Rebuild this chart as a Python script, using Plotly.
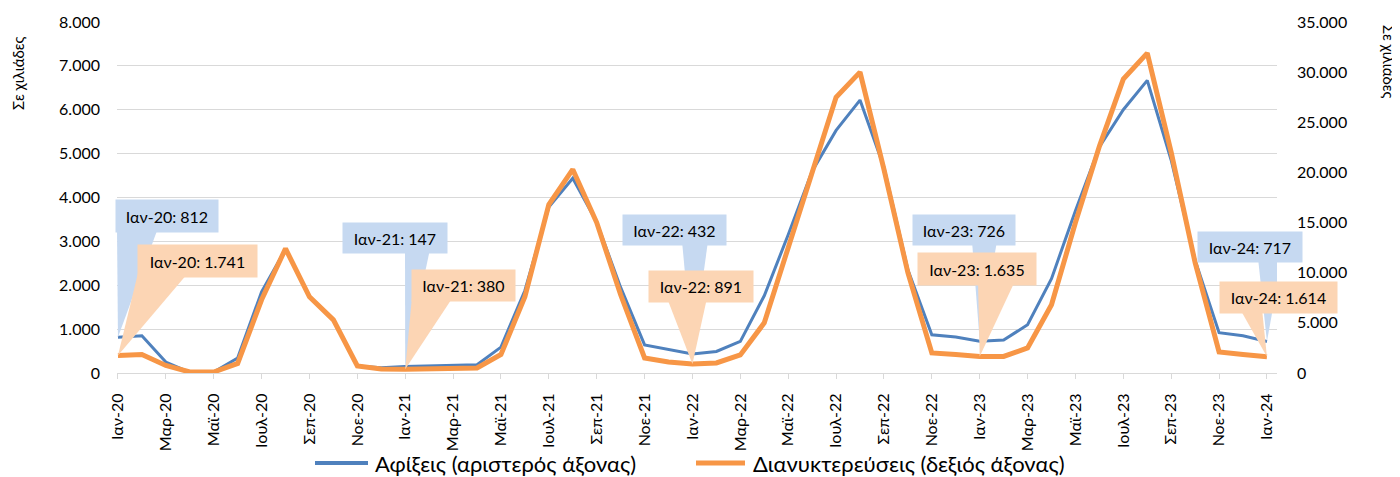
import plotly.graph_objects as go

months = ["Ιαν-20", "Φεβ-20", "Μαρ-20", "Απρ-20", "Μαϊ-20", "Ιουν-20", "Ιουλ-20", "Αυγ-20", "Σεπ-20", "Οκτ-20", "Νοε-20", "Δεκ-20",
          "Ιαν-21", "Φεβ-21", "Μαρ-21", "Απρ-21", "Μαϊ-21", "Ιουν-21", "Ιουλ-21", "Αυγ-21", "Σεπ-21", "Οκτ-21", "Νοε-21", "Δεκ-21",
          "Ιαν-22", "Φεβ-22", "Μαρ-22", "Απρ-22", "Μαϊ-22", "Ιουν-22", "Ιουλ-22", "Αυγ-22", "Σεπ-22", "Οκτ-22", "Νοε-22", "Δεκ-22",
          "Ιαν-23", "Φεβ-23", "Μαρ-23", "Απρ-23", "Μαϊ-23", "Ιουν-23", "Ιουλ-23", "Αυγ-23", "Σεπ-23", "Οκτ-23", "Νοε-23", "Δεκ-23",
          "Ιαν-24"]

arrivals = [812, 850, 250, 15, 20, 340, 1850, 2820, 1750, 1200, 160, 120,
            147, 160, 190, 190, 590, 1880, 3780, 4440, 3440, 1950, 640, 530,
            432, 490, 720, 1760, 3150, 4600, 5530, 6220, 4690, 2350, 870, 820,
            726, 750, 1100, 2150, 3700, 5150, 6000, 6670, 4850, 2570, 920, 850,
            717]

overnights = [1741, 1850, 750, 100, 100, 950, 7300, 12400, 7600, 5300, 700, 400,
              380, 420, 500, 500, 1850, 7600, 16800, 20300, 15000, 7800, 1500, 1100,
              891, 1000, 1800, 5000, 12500, 20000, 27500, 30000, 20300, 10000, 2000, 1850,
              1635, 1650, 2500, 6800, 15000, 22600, 29300, 31900, 22000, 11000, 2100, 1850,
              1614]

series_names = ["Αφίξεις (αριστερός άξονας)", "Διανυκτερεύσεις (δεξιός άξονας)"]
axis_title = "Σε χιλιάδες"
callout_idx = [0, 12, 24, 36, 48]

BLUE = "#4F81BD"
ORANGE = "#F79646"
BLUE_BOX = "#C6D9F1"
ORANGE_BOX = "#FCD5B4"
GRID = "#D9D9D9"
FONT = "Lato"

# page geometry (browser body adds an 8px margin)
OFF = 8
WIN_W, WIN_H = 1400, 477
W, H = WIN_W - OFF, WIN_H - OFF
L, R = 117, 1277          # plot area, window px
T, B = 22, 373
X0, X1 = -0.04, 48.42
Y_MAX, Y2_MAX = 8000, 35000

x = list(range(len(months)))

def px_to_x(px):
    return X0 + (px - L) / (R - L) * (X1 - X0)

def py_to_y(py, ymax=Y_MAX):
    return (B - py) / (B - T) * ymax

def px_to_paper(px):
    return (px - L) / (R - L)

def py_to_paper(py):
    return (B - py) / (B - T)

def fmt(v):
    return f"{v:,}".replace(",", ".")

fig = go.Figure()
fig.add_trace(go.Scatter(x=x, y=arrivals, mode="lines", name=series_names[0],
                         line=dict(color=BLUE, width=3)))
fig.add_trace(go.Scatter(x=x, y=overnights, mode="lines", name=series_names[1],
                         line=dict(color=ORANGE, width=5), yaxis="y2"))

# callout boxes (window px: left, top, right, bottom) and tail base (px x0, x1)
blue_boxes = [(116, 200, 218, 232, 117, 158), (343, 223, 447, 253, 405, 430),
              (623, 215, 726, 245, 682, 708), (913, 215, 1015, 245, 972, 997),
              (1198, 232, 1302, 262, 1258, 1282)]
orange_boxes = [(138, 245, 257, 277, 138, 188), (412, 270, 515, 301, 412, 453),
                (649, 271, 753, 302, 667, 707), (918, 253, 1036, 285, 978, 1015),
                (1220, 282, 1337, 313, 1240, 1262)]

shapes = []
annotations = []
for series, boxes, color, yref, ymax in [(arrivals, blue_boxes, BLUE_BOX, "y", Y_MAX),
                                          (overnights, orange_boxes, ORANGE_BOX, "y2", Y2_MAX)]:
    for i, (l, t, r, b, bx0, bx1) in zip(callout_idx, boxes):
        yb = py_to_y(b - 4, ymax)
        path = (f"M {px_to_x(bx0)},{yb} L {px_to_x(bx1)},{yb} "
                f"L {x[i]},{series[i]} Z")
        shapes.append(dict(type="path", path=path, xref="x", yref=yref,
                           fillcolor=color, line=dict(width=0), layer="above"))
        annotations.append(dict(
            x=px_to_paper((l + r) / 2), y=py_to_paper((t + b) / 2), xref="paper", yref="paper",
            text=f"{months[i]}: {fmt(series[i])}", showarrow=False,
            width=r - l, height=b - t, bgcolor=color, borderpad=0,
            font=dict(family=FONT, size=16, color="#000000"),
            xanchor="center", yanchor="middle"))

# axis titles
annotations.append(dict(text=axis_title, x=px_to_paper(18), y=py_to_paper(74),
                        xref="paper", yref="paper", showarrow=False, textangle=-90,
                        xanchor="center", yanchor="middle",
                        font=dict(family=FONT, size=15, color="#000000")))
annotations.append(dict(text=axis_title, x=px_to_paper(1389), y=py_to_paper(61),
                        xref="paper", yref="paper", showarrow=False, textangle=90,
                        xanchor="center", yanchor="middle",
                        font=dict(family=FONT, size=15, color="#000000")))

# legend drawn manually (line sample + text)
LEG_Y = py_to_paper(463)
for (lx0, lx1, tx), color, name in [((315, 368, 373), BLUE, series_names[0]),
                                     ((696, 745, 751), ORANGE, series_names[1])]:
    shapes.append(dict(type="line", xref="paper", yref="paper",
                       x0=px_to_paper(lx0), x1=px_to_paper(lx1), y0=LEG_Y, y1=LEG_Y,
                       line=dict(color=color, width=4 if color == BLUE else 5)))
    annotations.append(dict(text=name, x=px_to_paper(tx), y=LEG_Y, xref="paper", yref="paper",
                            xanchor="left", yanchor="middle", showarrow=False,
                            font=dict(family=FONT, size=22, color="#000000")))

fig.update_layout(
    width=W, height=H,
    margin=dict(l=L - OFF, r=W - (R - OFF), t=T - OFF, b=H - (B - OFF), pad=0, autoexpand=False),
    paper_bgcolor="white", plot_bgcolor="white",
    separators=",.",
    font=dict(family=FONT, size=16, color="#000000"),
    showlegend=False,
    xaxis=dict(range=[X0, X1], tickmode="array", tickvals=x[::2], ticktext=months[::2],
               tickangle=-90, showgrid=False, showline=True, linecolor=GRID, linewidth=1.3,
               ticks="outside", ticklen=5, tickcolor=GRID, tickwidth=1.3,
               ticklabelstandoff=8, zeroline=False,
               tickfont=dict(family=FONT, size=16, color="#000000")),
    yaxis=dict(range=[0, Y_MAX], dtick=1000, tickformat=",d", showgrid=True, gridcolor=GRID,
               gridwidth=1.3, zeroline=False, showline=False, ticks="",
               ticklabelstandoff=16, tickfont=dict(family=FONT, size=16, color="#000000")),
    yaxis2=dict(range=[0, Y2_MAX], dtick=5000, tickformat=",d", overlaying="y", side="right",
                showgrid=False, zeroline=False, showline=False, ticks="",
                ticklabelstandoff=19, tickfont=dict(family=FONT, size=16, color="#000000")),
    shapes=shapes,
    annotations=annotations,
)

fig.write_html("out.html")
